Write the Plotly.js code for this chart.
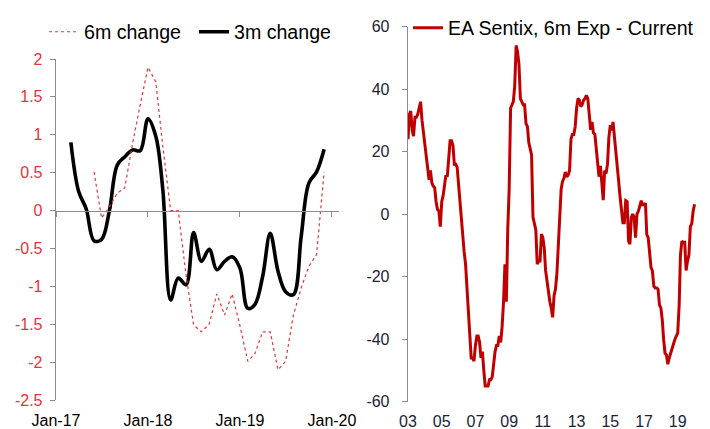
<!DOCTYPE html>
<html>
<head>
<meta charset="utf-8">
<script src="https://cdn.plot.ly/plotly-3.0.1.min.js"></script>
<style>html,body{margin:0;padding:0;background:#fff;}#chart{width:710px;height:429px;}</style>
</head>
<body>
<div id="chart"></div>
<script>
// ---- Left panel data (monthly) ----
var threeMStart = [2017, 3];   // first month of 3m change series
var threeM = [0.9, 0.25, 0.02, -0.4, -0.38, 0.0, 0.6, 0.71, 0.8, 0.79, 1.21, 0.98, 0.27,
  -1.18, -0.89, -0.98, -0.29, -0.67, -0.51, -0.78, -0.67, -0.61, -0.76, -1.29, -1.24,
  -0.87, -0.3, -0.8, -1.07, -1.11, -0.34, 0.36, 0.51, 0.81];
var sixMStart = [2017, 6];
var sixM = [0.51, -0.1, 0.05, 0.23, 0.3, 0.89, 1.39, 1.89, 1.7, 0.84, 0.0, 0.0, -0.85,
  -1.51, -1.6, -1.5, -1.1, -1.38, -1.1, -1.52, -1.99, -1.89, -1.6, -1.6, -2.1, -1.99,
  -1.38, -1.02, -0.74, -0.58, 0.51];
var leftXTickVals = ['2017-01-01', '2018-01-01', '2019-01-01', '2020-01-01'];
var leftXTickText = ['Jan-17', 'Jan-18', 'Jan-19', 'Jan-20'];
var leftYTickVals = [2, 1.5, 1, 0.5, 0, -0.5, -1, -1.5, -2, -2.5];
var leftYTickText = ['2', '1.5', '1', '0.5', '0', '-0.5', '-1', '-1.5', '-2', '-2.5'];

// ---- Right panel data (monthly, Jan-2003 .. Jan-2020) ----
var sentixStart = [2003, 1];
var sentix = [
  24, 32, 33, 27, 25, 31, 31, 32, 34, 36, 30, 26,
  22, 18, 16, 11, 14, 10, 9, 8.5, 4, 1.5, 1, -4,
  4, 6, 9, 12.5, 12, 17, 23.5, 23.5, 22, 16, 16, 15,
  9, 4, 0, -7, -12, -16, -24, -32, -38, -46, -46, -47,
  -42, -39, -39, -41, -46, -44, -50, -55, -55, -55, -53, -53,
  -52, -47, -44, -42, -42, -39, -41, -36, -28, -16, -28, -5,
  8, 34, 35, 36, 41, 54, 52, 48, 37, 36, 35, 35,
  29, 28, 23, 21, 19, -1, -3, -5, -16, -15, -15, -6.4,
  -7.5, -11, -18, -22, -25, -28, -30, -33, -26, -24, -19, -10,
  1, 8, 10.5, 11.5, 13.5, 12, 12.5, 14, 24, 25.5, 25.5, 28,
  34, 37, 36.5, 34.5, 35, 36.5, 37, 38, 37, 31, 27, 29.5,
  26, 25.5, 21.5, 17.5, 12, 15.5, 11, 4.5, 14, 13, 16, 24.5,
  28.5, 26.8, 29.5, 24, 19, 13, 10.5, 5.5, 0, -2.7, -2.7, 4.3,
  4, -8.6, -9.6, -1, 0, -1, -7.5, 0, 1, 3, 4.3, 3,
  3, 3.5, -6.5, -7.5, -13, -17, -18.2, -23, -23.6, -23.6, -24, -29,
  -30, -34, -40, -44.5, -45, -48, -46, -44.5, -43, -41, -40, -39,
  -38, -29, -13, -8.6, -9, -9, -18, -15, -13, -4, -3, 1,
  3.2];
var rightXLabelVals = ['2003-01-01','2005-01-01','2007-01-01','2009-01-01','2011-01-01','2013-01-01','2015-01-01','2017-01-01','2019-01-01'];
var rightXLabelText = ['03','05','07','09','11','13','15','17','19'];
var rightXTickVals = ['2003-01-01','2007-01-01','2011-01-01','2015-01-01','2019-01-01'];
var rightYTickVals = [60, 40, 20, 0, -20, -40, -60];
var rightYTickText = ['60', '40', '20', '0', '-20', '-40', '-60'];

function monthSeq(start, n) {
  var out = [], y = start[0], m = start[1];
  for (var i = 0; i < n; i++) {
    out.push(y + '-' + (m < 10 ? '0' + m : m) + '-01');
    m++; if (m > 12) { m = 1; y++; }
  }
  return out;
}

var W = 710, H = 429;
function px(x) { return x / W; }
function py(y) { return 1 - y / H; }

var FONT = 'Liberation Sans, Arial, sans-serif';
var AXIS_GREY = '#8c8c8c';
var RED_TICK = '#e8333a';

var traces = [
  {
    x: monthSeq(sixMStart, sixM.length), y: sixM, name: '6m change',
    type: 'scatter', mode: 'lines', xaxis: 'x2', yaxis: 'y',
    line: {color: '#e0383a', width: 1.2, dash: 'dot'}, legend: 'legend'
  },
  {
    x: monthSeq(threeMStart, threeM.length), y: threeM, name: '3m change',
    type: 'scatter', mode: 'lines', xaxis: 'x', yaxis: 'y',
    line: {color: '#000000', width: 3.6, shape: 'spline', smoothing: 1}, legend: 'legend'
  },
  {
    x: monthSeq(sentixStart, sentix.length), y: sentix, name: 'EA Sentix, 6m Exp - Current',
    type: 'scatter', mode: 'lines', xaxis: 'x3', yaxis: 'y2',
    line: {color: '#c00000', width: 3}, legend: 'legend2'
  }
];

var leftRange = ['2017-01-01', '2020-01-29'];
var rightRange = ['2003-01-01', '2020-03-15'];

var layout = {
  width: W, height: H, autosize: false,
  margin: {l: 0, r: 0, t: 0, b: 0, pad: 0},
  paper_bgcolor: '#fff', plot_bgcolor: 'rgba(0,0,0,0)',
  font: {family: FONT, size: 16, color: '#000'},
  showlegend: true,
  xaxis: {
    domain: [px(56), px(339)], anchor: 'y', type: 'date', range: leftRange,
    showline: false, showgrid: false, zeroline: false, ticks: '',
    tickmode: 'array', tickvals: leftXTickVals, ticktext: leftXTickText,
    ticklabelstandoff: 9,
    tickfont: {family: FONT, size: 16, color: '#000'}
  },
  xaxis2: {
    overlaying: 'x', anchor: 'free', position: py(210.7), type: 'date', range: leftRange,
    showline: true, linecolor: AXIS_GREY, linewidth: 1.3, showgrid: false, zeroline: false,
    ticks: 'outside', ticklen: 5, tickcolor: AXIS_GREY, tickwidth: 1,
    tickmode: 'array', tickvals: leftXTickVals, showticklabels: false
  },
  yaxis: {
    domain: [py(400), py(59)], anchor: 'x', range: [-2.5, 2],
    showline: true, linecolor: AXIS_GREY, linewidth: 1.3, showgrid: false, zeroline: false,
    ticks: 'outside', ticklen: 5, tickcolor: AXIS_GREY,
    tickmode: 'array', tickvals: leftYTickVals, ticktext: leftYTickText,
    ticklabelstandoff: 4,
    tickfont: {family: FONT, size: 16, color: RED_TICK}
  },
  xaxis3: {
    domain: [px(408), px(698)], anchor: 'y2', type: 'date', range: rightRange,
    showline: false, showgrid: false, zeroline: false, ticks: '',
    tickmode: 'array', tickvals: rightXLabelVals, ticktext: rightXLabelText,
    ticklabelstandoff: 8,
    tickfont: {family: FONT, size: 16, color: '#1c2336'}
  },
  xaxis4: {
    overlaying: 'x3', anchor: 'free', position: py(213.3), type: 'date', range: rightRange,
    showline: true, linecolor: AXIS_GREY, linewidth: 1.3, showgrid: false, zeroline: false,
    ticks: 'outside', ticklen: 5, tickcolor: AXIS_GREY,
    tickmode: 'array', tickvals: rightXTickVals, showticklabels: false
  },
  yaxis2: {
    domain: [py(401.7), py(26.7)], anchor: 'x3', range: [-60, 60],
    showline: true, linecolor: AXIS_GREY, linewidth: 1.3, showgrid: false, zeroline: false,
    ticks: 'outside', ticklen: 5, tickcolor: AXIS_GREY,
    tickmode: 'array', tickvals: rightYTickVals, ticktext: rightYTickText,
    ticklabelstandoff: 9,
    tickfont: {family: FONT, size: 16, color: '#1c2336'}
  },
  legend: {
    orientation: 'h', x: px(44), xanchor: 'left', y: py(32), yanchor: 'middle',
    bgcolor: 'rgba(0,0,0,0)', borderwidth: 0, entrywidth: 105,
    font: {family: FONT, size: 19.6, color: '#000'}, traceorder: 'normal'
  },
  legend2: {
    orientation: 'h', x: px(408), xanchor: 'left', y: py(28), yanchor: 'middle',
    bgcolor: 'rgba(0,0,0,0)', borderwidth: 0,
    font: {family: FONT, size: 19.6, color: '#000'}
  }
};

Plotly.newPlot('chart', traces, layout, {displayModeBar: false, staticPlot: true});
</script>
</body>
</html>
